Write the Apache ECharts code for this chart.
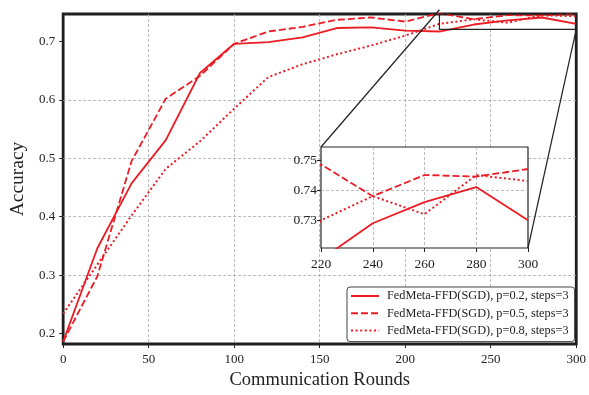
<!DOCTYPE html>
<html>
<head>
<meta charset="utf-8">
<script src="https://cdn.jsdelivr.net/npm/echarts@6/dist/echarts.min.js"></script>
<style>
  html, body { margin: 0; background: #fff; }
  #chart { width: 589px; height: 395px; }
</style>
</head>
<body>
<div id="chart"></div>
<script>
// communication rounds (x) and accuracy for each setting
const rounds = [0, 20, 40, 60, 80, 100, 120, 140, 160, 180, 200, 220, 240, 260, 280, 300];
const accP02 = [0.186, 0.346, 0.457, 0.531, 0.646, 0.696, 0.699, 0.707, 0.723, 0.724, 0.7185, 0.717, 0.729, 0.736, 0.741, 0.730];
const accP05 = [0.186, 0.298, 0.495, 0.602, 0.641, 0.696, 0.717, 0.725, 0.737, 0.741, 0.734, 0.7485, 0.738, 0.745, 0.7445, 0.747];
const accP08 = [0.234, 0.318, 0.402, 0.482, 0.529, 0.585, 0.639, 0.661, 0.678, 0.693, 0.710, 0.730, 0.738, 0.732, 0.745, 0.743];
const seriesNames = [
  'FedMeta-FFD(SGD), p=0.2, steps=3',
  'FedMeta-FFD(SGD), p=0.5, steps=3',
  'FedMeta-FFD(SGD), p=0.8, steps=3',
];
const mainYTicks = [0.2, 0.3, 0.4, 0.5, 0.6, 0.7];
const insetYTicks = [0.73, 0.74, 0.75];
const mainYRange = [0.182, 0.747];
const insetXRange = [220, 300];
const insetYRange = [0.7208, 0.7543];

const RED = '#ec1c24';
const FONT = 'Liberation Serif';
const lineTypes = ['solid', [7, 3], [2, 2.6]];
const lineWidths = [1.8, 1.8, 2];
const accs = [accP02, accP05, accP08];

const chart = echarts.init(document.getElementById('chart'));

// axis styling shared by main plot and inset
const gridLine = {
  show: true, showMinLine: false, showMaxLine: false,
  lineStyle: { color: '#aaa', width: 0.8, type: [3, 2] },
};
const tick = (customValues) => ({
  show: true, length: 4, customValues,
  lineStyle: { color: '#222', width: 1 },
});
const label = (digits, margin, hideEnds, size = 13) => ({
  fontFamily: FONT, fontSize: size, color: '#222', margin,
  showMinLabel: !hideEnds, showMaxLabel: !hideEnds,
  formatter: v => digits == null ? String(v) : v.toFixed(digits),
});

const buildSeries = (gridIdx) => accs.map((acc, i) => ({
  name: seriesNames[i],
  type: 'line',
  xAxisIndex: gridIdx,
  yAxisIndex: gridIdx,
  data: rounds.map((r, k) => [r, acc[k]]),
  showSymbol: false,
  symbol: 'none',
  clip: true,
  z: gridIdx ? 5 : 2,
  lineStyle: { color: RED, width: lineWidths[i], type: lineTypes[i], cap: 'butt' },
  itemStyle: { color: RED },
}));

chart.setOption({
  animation: false,
  backgroundColor: '#fff',
  grid: [
    { left: 62, right: 9, top: 14, bottom: 46, show: true, borderColor: '#1f1f1f', borderWidth: 2.8 },
    { left: 321, top: 147, width: 207, height: 101, show: true, z: 3,
      backgroundColor: '#fff', borderColor: '#222', borderWidth: 1.2 },
  ],
  xAxis: [
    {
      type: 'value', gridIndex: 0, min: 0, max: 300, interval: 50,
      name: 'Communication Rounds', nameLocation: 'middle', nameGap: 27,
      nameTextStyle: { fontFamily: FONT, fontSize: 18.5, color: '#222' },
      axisLine: { show: false }, axisTick: tick(), splitLine: gridLine,
      axisLabel: label(null, 9, false),
    },
    {
      type: 'value', gridIndex: 1, min: insetXRange[0], max: insetXRange[1], interval: 20, z: 4,
      axisLine: { show: false }, axisTick: tick(), splitLine: gridLine,
      axisLabel: label(null, 9, false, 13.5),
    },
  ],
  yAxis: [
    {
      type: 'value', gridIndex: 0, min: mainYRange[0], max: mainYRange[1], splitNumber: 5,
      name: 'Accuracy', nameLocation: 'middle', nameGap: 33,
      nameTextStyle: { fontFamily: FONT, fontSize: 19.5, color: '#222' },
      axisLine: { show: false }, axisTick: tick(mainYTicks), splitLine: gridLine,
      axisLabel: label(1, 8, true),
    },
    {
      type: 'value', gridIndex: 1, min: insetYRange[0], max: insetYRange[1], splitNumber: 3, z: 4,
      axisLine: { show: false }, axisTick: tick(insetYTicks), splitLine: gridLine,
      axisLabel: label(2, 4, true, 13.5),
    },
  ],
  legend: {
    data: seriesNames,
    orient: 'vertical',
    left: 347, top: 287,
    padding: [3, 6, 5, 3],
    itemWidth: 28, itemHeight: 12, itemGap: 5.3,
    itemStyle: { opacity: 0 },
    backgroundColor: '#fff',
    borderColor: '#444', borderWidth: 1, borderRadius: 3,
    textStyle: { fontFamily: FONT, fontSize: 12.3, color: '#222', padding: [0, 0, 0, 3] },
  },
  series: [...buildSeries(0), ...buildSeries(1)],
});

// zoom box on main plot + connector lines to the inset
const toMain = p => chart.convertToPixel({ gridIndex: 0 }, p);
const toInset = p => chart.convertToPixel({ gridIndex: 1 }, p);
const boxTL = toMain([insetXRange[0], insetYRange[1]]);
const boxBR = toMain([insetXRange[1], insetYRange[0]]);
const plotTop = toMain([0, mainYRange[1]])[1];
const insetTL = toInset([insetXRange[0], insetYRange[1]]);
const insetBR = toInset([insetXRange[1], insetYRange[0]]);
const stroke = { stroke: '#222', lineWidth: 1.2, fill: null };
const boxTop = Math.max(boxTL[1], plotTop);

chart.setOption({
  graphic: [
    { type: 'rect', z: 6, silent: true,
      shape: { x: boxTL[0], y: boxTop, width: boxBR[0] - boxTL[0], height: boxBR[1] - boxTop },
      style: stroke },
    { type: 'line', z: 6, silent: true,
      shape: { x1: boxTL[0], y1: boxTL[1], x2: insetTL[0], y2: insetTL[1] }, style: stroke },
    { type: 'line', z: 6, silent: true,
      shape: { x1: boxBR[0], y1: boxBR[1], x2: insetBR[0], y2: insetBR[1] }, style: stroke },
  ],
});
</script>
</body>
</html>
